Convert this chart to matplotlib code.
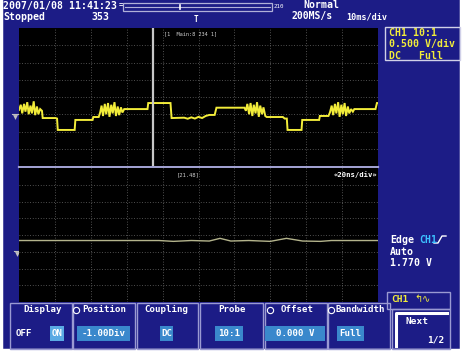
import matplotlib
matplotlib.use("Agg")
import matplotlib.pyplot as plt
from matplotlib.patches import Rectangle

# ---------------- data ----------------
# upper (main) window trace: time in divisions (0..10), level in divisions (-4..4)
upper_t = [0.00, 0.05, 0.09, 0.14, 0.18, 0.23, 0.27, 0.32, 0.36, 0.41, 0.45, 0.50, 0.54, 0.59, 0.64,
           0.66, 1.02, 1.06, 1.08, 1.55, 1.57, 2.05, 2.07, 2.22,
           2.26, 2.30, 2.34, 2.39, 2.43, 2.48, 2.52, 2.57, 2.61, 2.66, 2.70, 2.75, 2.79, 2.84, 2.88, 2.93,
           2.95, 3.58, 3.60, 4.22, 4.25, 4.60, 4.70, 4.80, 4.90, 5.00, 5.10, 5.20, 5.30, 5.45, 5.50, 6.28,
           6.32, 6.36, 6.41, 6.45, 6.50, 6.54, 6.59, 6.63, 6.68, 6.72, 6.77, 6.81, 6.86, 6.90,
           6.94, 7.35, 7.40, 7.46, 7.48, 7.87, 7.89, 8.36, 8.38, 8.62,
           8.66, 8.71, 8.75, 8.80, 8.84, 8.89, 8.93, 8.98, 9.02, 9.07, 9.11, 9.16, 9.20, 9.25, 9.30, 9.34,
           9.36, 9.93, 9.97, 10.00]
upper_v = [-0.75, -0.45, -0.95, -0.40, -0.85, -0.30, -1.00, -0.50, -0.95, -0.25, -1.05, -0.55, -1.00, -0.70, -0.80,
           -1.22, -1.22, -1.25, -1.91, -1.91, -1.33, -1.33, -1.16, -1.16,
           -0.90, -0.50, -1.10, -0.40, -1.00, -0.35, -1.15, -0.45, -0.95, -0.30, -1.10, -0.55, -1.05, -0.60, -0.90, -0.70,
           -0.70, -0.70, -0.35, -0.35, -1.22, -1.20, -1.26, -1.18, -1.25, -1.15, -1.22, -1.10, -1.04, -1.04, -0.62, -0.62,
           -0.80, -0.40, -1.00, -0.35, -1.10, -0.45, -0.95, -0.30, -1.15, -0.50, -1.00, -0.60, -1.10, -1.16,
           -1.16, -1.16, -1.25, -1.25, -1.91, -1.91, -1.33, -1.33, -1.10, -1.10,
           -0.90, -0.50, -1.05, -0.40, -0.95, -0.30, -1.15, -0.45, -1.00, -0.35, -1.10, -0.55, -0.95, -0.70, -0.85, -0.70,
           -0.70, -0.70, -0.35, -0.35]

# lower (zoom) window trace
lower_t = [0.0, 3.9, 4.3, 4.8, 5.3, 5.6, 5.9, 6.4, 7.0, 7.45, 7.9, 8.4, 8.7, 10.0]
lower_v = [-0.33, -0.33, -0.38, -0.33, -0.36, -0.20, -0.36, -0.33, -0.38, -0.20, -0.36, -0.38, -0.33, -0.33]

header_row1 = ["2007/01/08 11:41:23", "Normal"]
header_row2 = ["Stopped", "353", "200MS/s", "10ms/div"]
ch_info = ["CH1 10:1", "0.500 V/div", "DC   Full"]
trig_info = ["Edge", "CH1", "Auto", "1.770 V"]
menu_titles = ["Display", "Position", "Coupling", "Probe", "Offset", "Bandwidth"]
menu_values = ["ON", "-1.00Div", "DC", "10:1", "0.000 V", "Full"]
zoom_labels = ["[1  Main:8 234 1]", "[21.48]", "\u00ab20ns/div\u00bb"]

# ---------------- style ----------------
BLUE = "#1c1c86"
LAV = "#9a9ad2"
YEL = "#f2ec3a"
HL = "#3a88cc"
MONO = "DejaVu Sans Mono"
W, H = 462, 351

fig = plt.figure(figsize=(W / 100, H / 100), dpi=100)
fig.patch.set_facecolor(BLUE)
bg = fig.add_axes([0, 0, 1, 1])
bg.set_xlim(0, W)
bg.set_ylim(H, 0)
bg.axis("off")
bg.set_facecolor(BLUE)


def txt(x, y, s, size=7, color="white", ha="left", **kw):
    bg.text(x, y, s, fontsize=size, color=color, ha=ha, va="center",
            family=kw.pop("family", MONO), fontweight=kw.pop("weight", "bold"), **kw)


def rect(x0, y0, x1, y1, ec=LAV, fc="none", lw=1.0, z=2):
    bg.add_patch(Rectangle((x0, y0), x1 - x0, y1 - y0, ec=ec, fc=fc, lw=lw, zorder=z))


# white outer border (left, bottom, right)
bg.plot([1, 1, W - 1, W - 1], [0, H - 1, H - 1, 0], color="white", lw=2.5, zorder=1)

# header
txt(3, 5.5, header_row1[0], 7.1)
txt(119, 5.5, "=", 5)
rect(123, 3, 272, 11, ec="#b0b0d8", lw=0.9)
bg.plot([125, 270], [7, 7], color="#b0b0d8", lw=0.8)
bg.plot([180, 180], [5, 9], color="white", lw=1.2)
txt(274, 7, "210", 4.2, weight="normal")
txt(303, 5.5, header_row1[1], 7.1)
txt(3, 16.5, header_row2[0], 7.1)
txt(91, 16.5, header_row2[1], 7.1)
txt(196, 19.5, "T", 5.5, ha="center")
txt(292, 16.5, header_row2[2], 7.0)
txt(346, 16.5, header_row2[3], 6.1)

# ---------------- screens ----------------
SX0, SX1 = 19, 378
UY0, UY1 = 28, 166
LY0, LY1 = 168, 302


def screen(y0, y1):
    ax = fig.add_axes([SX0 / W, 1 - y1 / H, (SX1 - SX0) / W, (y1 - y0) / H])
    ax.set_facecolor("black")
    ax.set_xlim(0, 10)
    ax.set_ylim(-4, 4)
    for s in ax.spines.values():
        s.set_visible(False)
    ax.set_xticks([])
    ax.set_yticks([])
    for gx in range(1, 10):
        ax.axvline(gx, color="#6a6a6a", lw=0.6, ls=(0, (1, 2.2)), zorder=1)
    for gy in range(-3, 4):
        ax.axhline(gy, color="#6a6a6a", lw=0.6, ls=(0, (1, 2.2)), zorder=1)
    return ax


ax_u = screen(UY0, UY1)
ax_u.plot(upper_t, upper_v, color=YEL, lw=1.4, zorder=3, solid_joinstyle="miter")
ax_u.axvline(3.73, color="#c8c8c8", lw=1.6, zorder=4)
ax_u.text(4.05, 3.65, zoom_labels[0], fontsize=3.8, color="#d0d0d0", family=MONO, va="center")

ax_l = screen(LY0, LY1)
ax_l.plot(lower_t, lower_v, color="#b4b48c", lw=1.0, zorder=3)
ax_l.text(4.4, 3.6, zoom_labels[1], fontsize=4.0, color="#d0d0d0", family=MONO, va="center")
ax_l.text(9.98, 3.6, zoom_labels[2], fontsize=5.2, color="white", family=MONO, va="center",
          ha="right", fontweight="bold")

# divider between windows
bg.plot([SX0, SX1], [167, 167], color="#a0a0d0", lw=1.6, zorder=5)

# ground markers
for gy, gx in [(116, 15), (253, 17)]:
    bg.plot([gx - 3, gx + 3], [gy - 2, gy - 2], color="#c0c0c0", lw=0.8)
    bg.plot([gx], [gy + 1], marker="v", ms=3.5, color="#c0c0c0", mec="none")

# ---------------- right panel ----------------
rect(385, 27, 460, 60, ec="#d0d0e8", lw=1.0)
for i, s in enumerate(ch_info):
    txt(389, 33 + i * 11.5, s, 7.1, color=YEL)

txt(390, 240, trig_info[0], 7.1)
txt(419, 240, trig_info[1], 7.1, color="#3cc0ff")
bg.plot([434, 438, 442, 446], [243, 243, 236, 236], color="white", lw=1.0)
txt(390, 252, trig_info[2], 7.1)
txt(390, 263.5, trig_info[3], 7.1)

rect(387, 292, 450, 309, ec=LAV, lw=1.0)
txt(391, 300, "CH1", 6.8, color=YEL)
txt(414, 299, "\u21b0\u223f", 7, color=YEL, family="DejaVu Sans", weight="normal")

rect(392, 309, 450, 349, ec=LAV, lw=1.0)
bg.plot([396, 396, 447], [346, 313, 313], color="white", lw=2.2)
txt(406, 321, "Next", 6.8)
txt(444, 340, "1/2", 6.8, ha="right")

# ---------------- bottom menu ----------------
boxes = [(10, 72), (73, 135), (137, 198), (200, 263), (265, 327), (328, 390)]
for (x0, x1) in boxes:
    rect(x0, 303, x1, 349, ec=LAV, lw=1.0)

title_pos = [(43, "center"), (82, "left"), (166, "center"), (232, "center"), (281, "left"), (335, "left")]
for (x, ha), s in zip(title_pos, menu_titles):
    txt(x, 309.5, s, 6.6, ha=ha)
# small round icons before Position / Offset / Bandwidth
for ix in [76, 270, 331]:
    bg.plot([ix], [309.5], marker="o", ms=4.5, mfc="none", mec="white", mew=0.8)

hl_boxes = [(50, 64), (77, 130), (160, 173), (215, 243), (265, 325), (337, 364)]
for (x0, x1), s in zip(hl_boxes, menu_values):
    rect(x0, 326, x1, 341, ec="none", fc=HL if s != "ON" else "#5aaae4", z=3)
    bg.text((x0 + x1) / 2, 333.5, s, fontsize=6.6, color="white", ha="center", va="center",
            family=MONO, fontweight="bold", zorder=4)
txt(16, 333.5, "OFF", 6.6)

fig.savefig("out.png", dpi=100, facecolor=BLUE)
